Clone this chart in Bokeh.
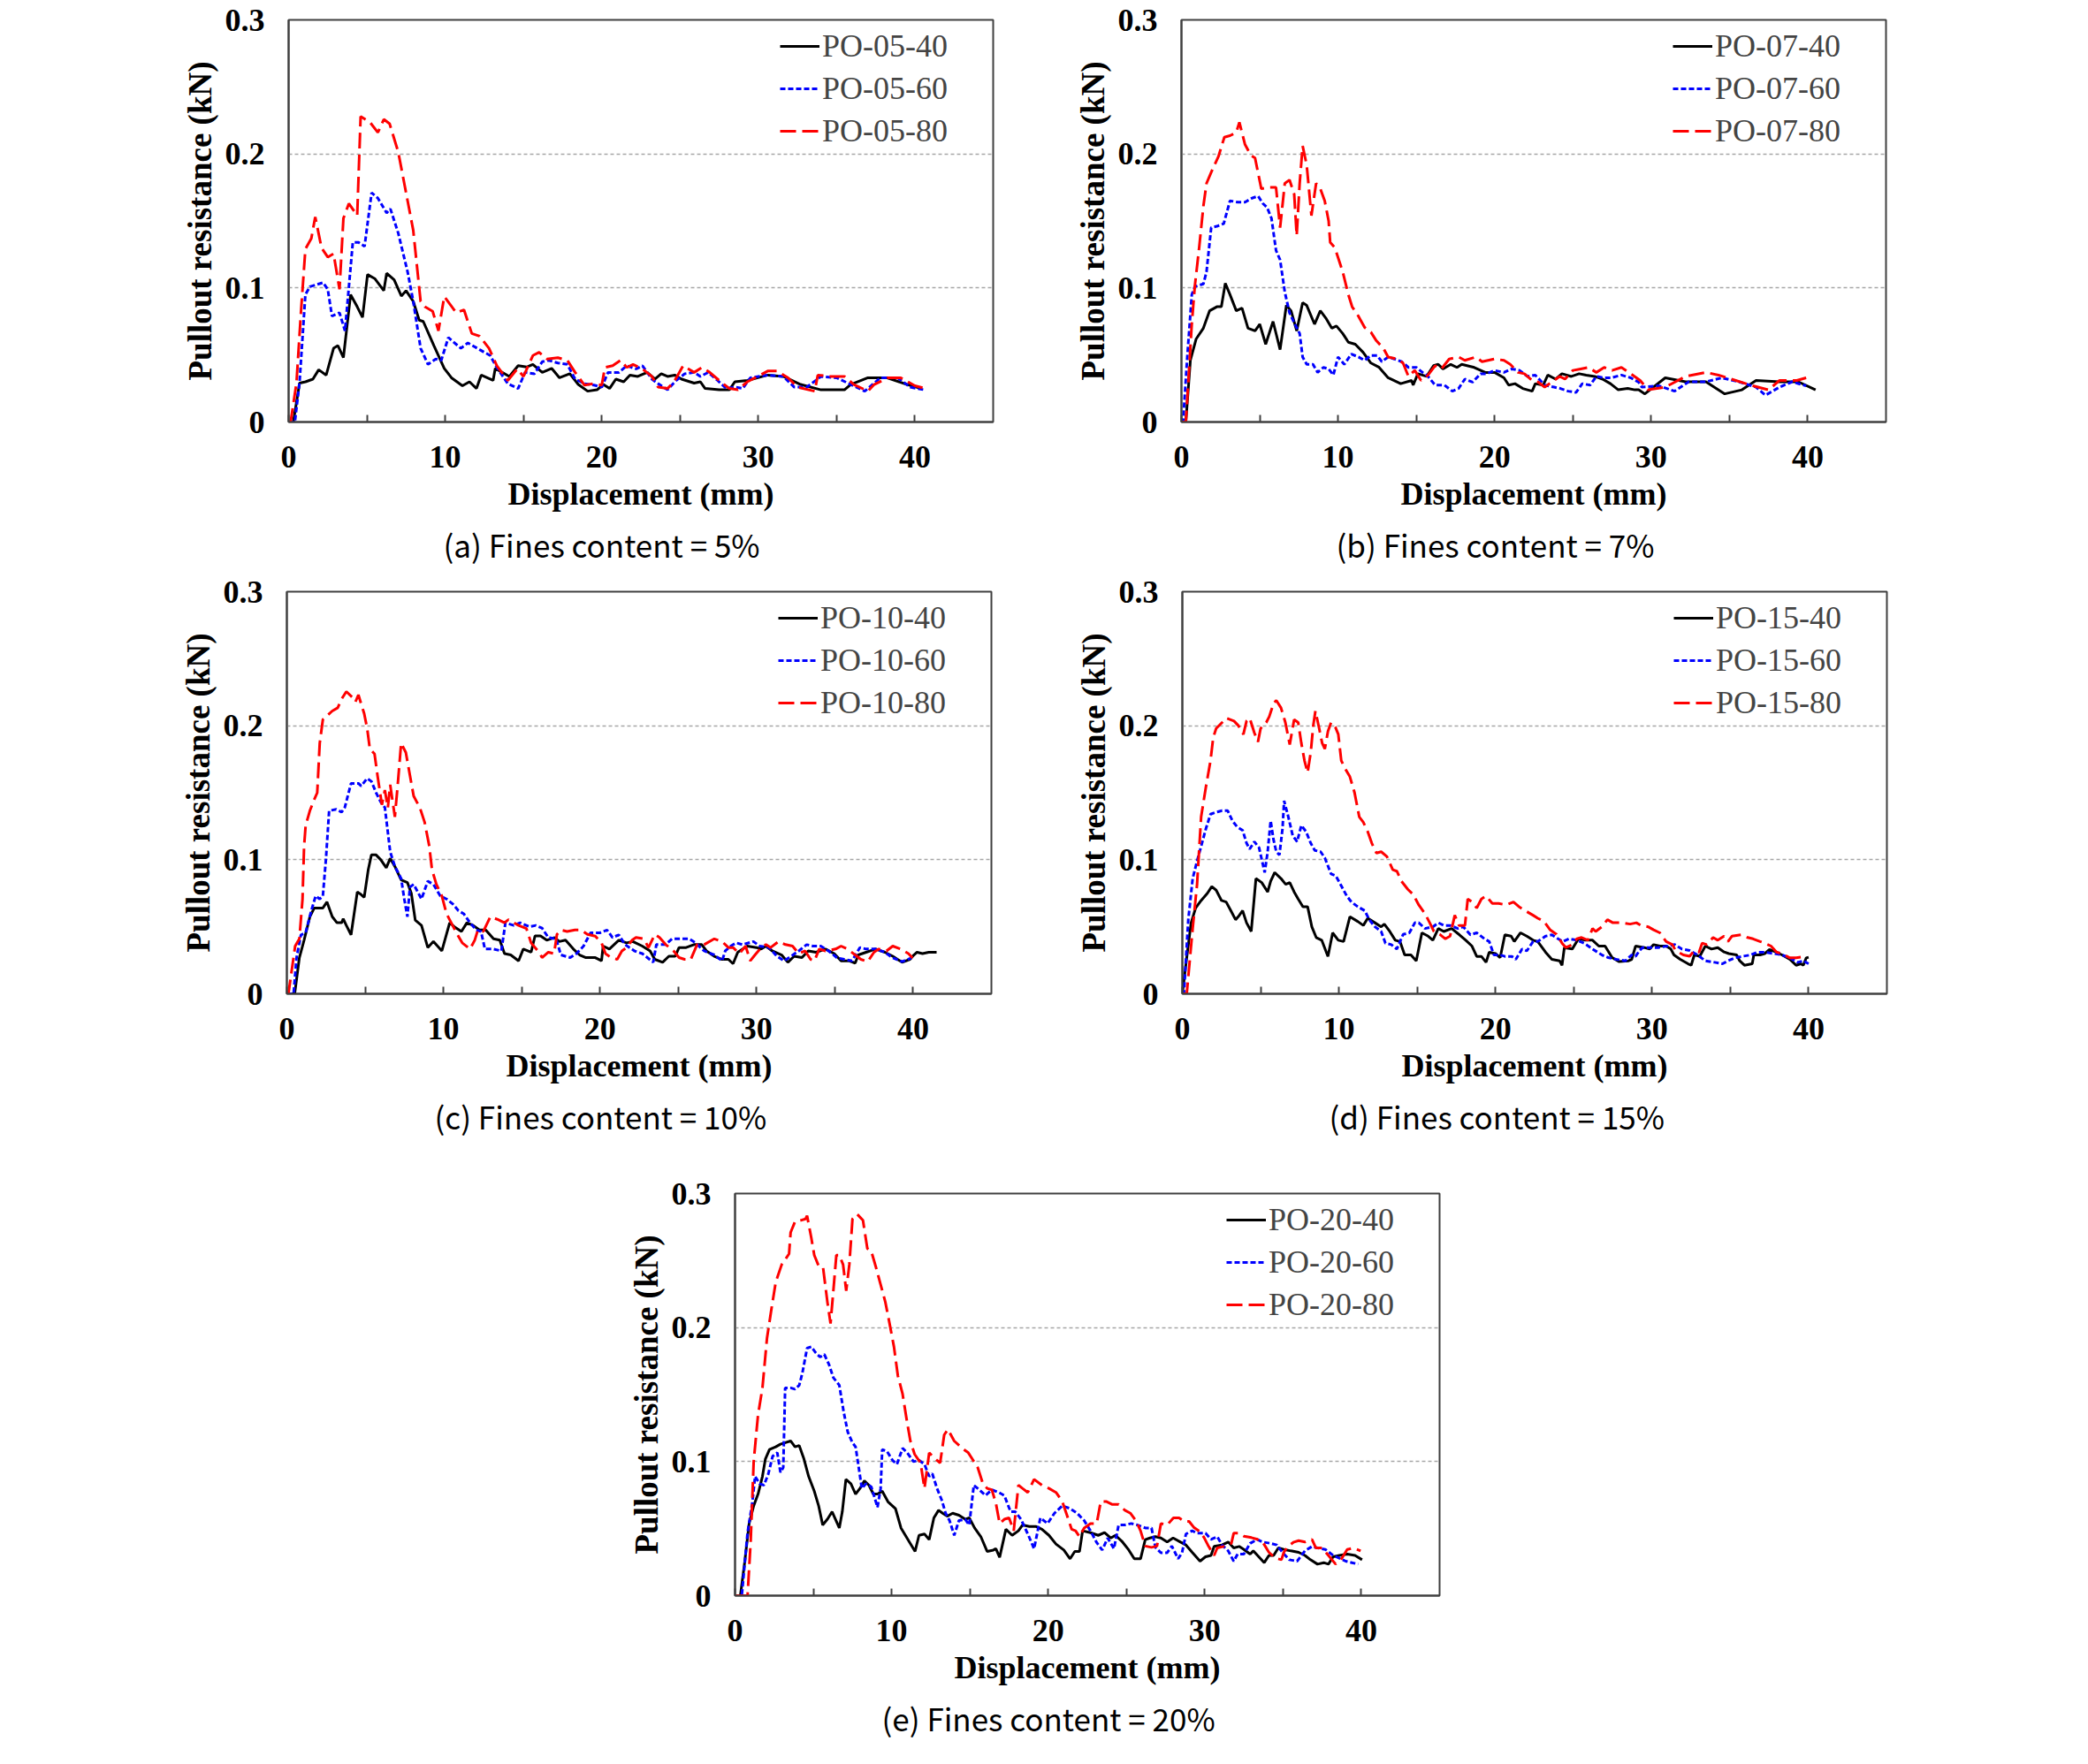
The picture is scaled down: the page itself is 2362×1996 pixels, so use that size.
from bokeh.plotting import figure
from bokeh.models import (Range1d, FixedTicker, Legend, LegendItem, Title,
                          ColumnDataSource)
from bokeh.layouts import column, row, Spacer
from bokeh.embed import file_html
from bokeh.resources import INLINE

# ---------------- data (displacement mm, pullout resistance kN) -------------
PO_05_40 = [(0,0),(0.3,0),(0.7,0.029),(1.08,0.030),(1.55,0.032),(1.92,0.039),(2.4,0.035),(2.87,0.055),(3.15,0.057),(3.5,0.048),(3.96,0.095),(4.38,0.086),(4.72,0.078),(5.04,0.110),(5.5,0.107),(6.08,0.098),(6.26,0.111),(6.74,0.106),(7.2,0.094),(7.5,0.098),(7.96,0.090),(8.34,0.076),(8.6,0.075),(9.28,0.057),(9.94,0.040),(10.4,0.033),(11.1,0.027),(11.55,0.030),(12.0,0.025),(12.3,0.035),(13.06,0.031),(13.2,0.040),(14.1,0.034),(14.66,0.042),(15.2,0.041),(15.6,0.043),(16.2,0.037),(16.8,0.040),(17.3,0.033),(17.96,0.036),(18.5,0.028),(19.1,0.023),(19.7,0.024),(20.1,0.028),(20.5,0.025),(20.9,0.032),(21.4,0.030),(21.8,0.035),(22.3,0.034),(22.9,0.037),(23.4,0.032),(23.8,0.036),(24.2,0.034),(24.66,0.035),(25.1,0.032),(25.9,0.029),(26.3,0.030),(26.6,0.025),(27.5,0.024),(28.15,0.024),(28.5,0.030),(29.3,0.031),(30.6,0.035),(31.6,0.034),(32.7,0.028),(34.0,0.024),(35.5,0.024),(35.9,0.028),(37.0,0.033),(38.2,0.033),(39.5,0.028),(40.4,0.025)]
PO_05_60 = [(0,0),(0.4,0),(0.7,0.03),(1.07,0.095),(1.36,0.101),(2.2,0.104),(2.5,0.099),(2.77,0.079),(3.25,0.0815),(3.6,0.068),(4.1,0.134),(4.47,0.134),(4.85,0.131),(5.3,0.171),(5.7,0.167),(6.26,0.156),(6.5,0.159),(7.0,0.141),(7.6,0.112),(7.96,0.090),(8.43,0.055),(8.9,0.043),(9.4,0.047),(9.75,0.046),(10.2,0.063),(11.0,0.055),(11.45,0.059),(12.2,0.054),(12.87,0.0496),(13.3,0.0407),(14.0,0.0286),(14.66,0.025),(15.1,0.037),(15.7,0.036),(16.2,0.045),(16.6,0.046),(17.2,0.044),(17.8,0.043),(18.3,0.032),(18.9,0.0286),(19.5,0.0275),(20.0,0.026),(20.4,0.037),(21.1,0.037),(21.6,0.042),(22.2,0.0396),(22.6,0.042),(23.2,0.032),(23.6,0.0286),(24.2,0.024),(24.75,0.031),(25.3,0.036),(25.9,0.037),(26.3,0.034),(26.8,0.037),(27.4,0.031),(27.96,0.025),(28.5,0.026),(29.0,0.025),(29.5,0.033),(30.6,0.035),(31.6,0.034),(32.3,0.026),(33.1,0.026),(34.0,0.034),(35.0,0.033),(35.9,0.028),(36.8,0.023),(37.8,0.033),(38.9,0.033),(39.7,0.026),(40.6,0.024)]
PO_05_80 = [(0,0),(0.13,0),(0.5,0.029),(0.8,0.084),(1.07,0.129),(1.45,0.137),(1.7,0.153),(2.1,0.130),(2.5,0.123),(2.87,0.1256),(3.25,0.099),(3.5,0.152),(3.85,0.163),(4.38,0.154),(4.6,0.228),(5.2,0.2236),(5.7,0.216),(6.08,0.2258),(6.45,0.2225),(7.0,0.2015),(7.6,0.165),(7.96,0.143),(8.43,0.090),(8.7,0.086),(9.2,0.0826),(9.57,0.068),(9.94,0.0936),(10.3,0.088),(10.7,0.0815),(11.2,0.0837),(11.7,0.066),(12.2,0.064),(12.8,0.055),(13.3,0.042),(14.0,0.031),(14.6,0.0396),(15.0,0.034),(15.6,0.0496),(16.0,0.052),(16.5,0.047),(17.2,0.048),(17.8,0.046),(18.3,0.037),(18.9,0.0275),(19.5,0.0286),(20.0,0.0275),(20.2,0.0407),(20.7,0.042),(21.2,0.046),(21.6,0.0407),(22.0,0.043),(22.6,0.0396),(23.2,0.034),(23.6,0.026),(24.2,0.025),(24.6,0.0297),(25.2,0.042),(25.9,0.037),(26.4,0.0407),(26.9,0.037),(27.5,0.031),(28.15,0.025),(28.7,0.024),(29.3,0.03),(30.6,0.038),(31.2,0.038),(31.9,0.033),(32.5,0.026),(33.6,0.023),(33.8,0.035),(34.6,0.034),(35.5,0.034),(36.1,0.028),(37.0,0.023),(37.4,0.028),(38.3,0.033),(39.1,0.033),(40.0,0.027),(40.7,0.025)]

PO_07_40 = [(0,0),(0.28,0),(0.57,0.046),(0.94,0.062),(1.4,0.070),(1.8,0.083),(2.26,0.086),(2.55,0.086),(2.8,0.1035),(3.1,0.095),(3.5,0.083),(3.87,0.085),(4.25,0.070),(4.7,0.068),(5.0,0.073),(5.38,0.058),(5.85,0.075),(6.3,0.054),(6.7,0.087),(7.0,0.083),(7.36,0.068),(7.74,0.089),(8.0,0.087),(8.5,0.073),(8.87,0.083),(9.25,0.077),(9.6,0.070),(9.9,0.0716),(10.3,0.066),(10.66,0.0595),(11.1,0.058),(11.6,0.052),(12.1,0.044),(12.6,0.041),(13.2,0.033),(14.0,0.0286),(14.7,0.031),(14.8,0.0275),(15.1,0.036),(15.66,0.034),(16.1,0.042),(16.4,0.043),(16.7,0.0396),(17.2,0.043),(17.6,0.0407),(17.9,0.043),(18.7,0.0407),(19.4,0.037),(20.0,0.037),(20.6,0.033),(20.9,0.0275),(21.3,0.0286),(21.8,0.025),(22.4,0.023),(22.6,0.0286),(23.1,0.0275),(23.4,0.035),(23.9,0.032),(24.3,0.036),(24.9,0.034),(25.4,0.036),(25.85,0.035),(26.4,0.034),(26.9,0.032),(27.4,0.0286),(27.9,0.024),(28.5,0.025),(28.96,0.024),(29.2,0.024),(29.6,0.021),(30.9,0.033),(32.2,0.030),(33.5,0.030),(34.7,0.021),(35.8,0.024),(36.7,0.031),(38.2,0.030),(39.4,0.030),(40.5,0.024)]
PO_07_60 = [(0,0),(0.1,0),(0.38,0.05),(0.66,0.095),(0.85,0.101),(1.4,0.103),(1.6,0.112),(1.9,0.145),(2.26,0.146),(2.7,0.148),(3.1,0.165),(3.6,0.164),(4.06,0.164),(4.5,0.167),(4.9,0.1685),(5.2,0.163),(5.47,0.160),(5.75,0.152),(6.04,0.128),(6.3,0.121),(6.6,0.097),(6.9,0.0815),(7.2,0.074),(7.55,0.066),(7.74,0.0485),(8.0,0.043),(8.4,0.043),(8.7,0.037),(9.06,0.0407),(9.4,0.0396),(9.7,0.035),(10.0,0.0485),(10.4,0.043),(10.85,0.0507),(11.3,0.0485),(11.7,0.046),(12.1,0.0496),(12.5,0.0496),(12.8,0.045),(13.2,0.0485),(13.6,0.047),(14.06,0.045),(14.5,0.0407),(15.0,0.0407),(15.4,0.037),(15.75,0.034),(16.2,0.0275),(16.8,0.0275),(17.3,0.023),(17.7,0.025),(18.1,0.032),(18.6,0.0297),(19.1,0.036),(19.5,0.036),(20.0,0.0385),(20.6,0.037),(21.1,0.0396),(21.6,0.0385),(22.1,0.034),(22.6,0.035),(23.2,0.0275),(23.8,0.026),(24.2,0.025),(24.7,0.023),(25.2,0.022),(25.6,0.0286),(26.1,0.0275),(26.5,0.034),(27.0,0.033),(27.45,0.033),(28.1,0.035),(28.7,0.033),(29.2,0.0297),(29.4,0.026),(30.5,0.027),(31.5,0.023),(32.4,0.030),(33.5,0.030),(34.5,0.033),(35.6,0.030),(36.7,0.026),(37.3,0.020),(38.2,0.026),(39.0,0.030),(39.9,0.027)]
PO_07_80 = [(0,0),(0.28,0),(0.66,0.073),(0.85,0.101),(1.13,0.13),(1.4,0.161),(1.6,0.178),(2.0,0.189),(2.36,0.198),(2.74,0.2125),(3.1,0.2136),(3.5,0.216),(3.7,0.2236),(4.06,0.207),(4.43,0.199),(4.7,0.197),(5.1,0.174),(5.57,0.175),(6.04,0.175),(6.3,0.145),(6.6,0.178),(6.9,0.1806),(7.2,0.170),(7.36,0.139),(7.55,0.178),(7.74,0.206),(8.0,0.1916),(8.3,0.154),(8.6,0.178),(8.87,0.174),(9.15,0.165),(9.4,0.150),(9.5,0.134),(9.8,0.130),(10.3,0.112),(10.66,0.095),(10.9,0.086),(11.3,0.079),(11.7,0.0705),(12.1,0.067),(12.45,0.0606),(12.9,0.055),(13.2,0.0485),(13.8,0.047),(14.15,0.044),(14.5,0.034),(14.9,0.0385),(15.3,0.031),(15.75,0.035),(16.2,0.042),(16.6,0.0396),(17.1,0.047),(17.7,0.0485),(18.1,0.046),(18.8,0.0485),(19.2,0.045),(20.0,0.047),(20.6,0.046),(21.0,0.043),(21.5,0.037),(21.9,0.036),(22.4,0.031),(22.8,0.0297),(23.2,0.026),(23.8,0.031),(24.15,0.034),(24.5,0.032),(25.0,0.0385),(25.5,0.0396),(26.0,0.0407),(26.5,0.037),(27.0,0.0407),(27.5,0.0385),(28.1,0.0407),(28.7,0.036),(29.3,0.031),(29.8,0.024),(30.9,0.026),(32.2,0.034),(33.5,0.037),(34.3,0.035),(35.4,0.031),(36.5,0.027),(37.5,0.024),(38.2,0.031),(39.3,0.031),(39.9,0.033)]

PO_10_40 = [(0,0),(0.5,0),(0.8,0.027),(1.1,0.040),(1.47,0.0575),(1.75,0.064),(2.3,0.064),(2.56,0.0685),(2.9,0.0575),(3.2,0.053),(3.5,0.053),(3.6,0.056),(3.8,0.051),(4.1,0.044),(4.5,0.076),(4.75,0.074),(4.94,0.072),(5.2,0.0926),(5.4,0.1036),(5.7,0.1036),(6.0,0.100),(6.35,0.094),(6.6,0.101),(6.9,0.095),(7.3,0.085),(7.7,0.083),(7.95,0.075),(8.2,0.055),(8.6,0.051),(9.0,0.0345),(9.36,0.039),(9.9,0.032),(10.4,0.053),(10.7,0.050),(11.15,0.0465),(11.5,0.053),(11.9,0.051),(12.3,0.0476),(12.7,0.0476),(13.2,0.041),(13.6,0.040),(13.9,0.030),(14.3,0.029),(14.8,0.0246),(15.1,0.0334),(15.6,0.031),(15.85,0.0432),(16.2,0.0432),(16.6,0.040),(17.1,0.042),(17.4,0.039),(17.8,0.040),(18.3,0.0334),(18.7,0.029),(19.1,0.027),(19.7,0.027),(20.1,0.0246),(20.2,0.0356),(20.6,0.0334),(21.2,0.040),(21.7,0.038),(22.1,0.039),(22.7,0.0356),(23.2,0.032),(23.5,0.0257),(24.0,0.0235),(24.4,0.028),(24.8,0.028),(25.05,0.0345),(25.5,0.0345),(26.0,0.0367),(26.5,0.0367),(26.8,0.032),(27.3,0.028),(27.8,0.0257),(28.2,0.0257),(28.5,0.0224),(28.8,0.031),(29.4,0.0356),(30.0,0.0345),(30.3,0.0334),(30.6,0.0356),(31.0,0.032),(31.6,0.029),(32.0,0.0235),(32.4,0.028),(32.9,0.027),(33.3,0.032),(33.8,0.031),(34.4,0.0334),(34.96,0.030),(35.4,0.0246),(35.9,0.0246),(36.3,0.0229),(36.5,0.029),(37.0,0.031),(37.6,0.0334),(38.2,0.031),(38.7,0.028),(39.3,0.0235),(39.8,0.0257),(40.05,0.029),(40.25,0.031),(40.6,0.030),(41.0,0.031),(41.5,0.031)]
PO_10_60 = [(0,0),(0.43,0),(0.62,0.027),(0.9,0.044),(1.2,0.0455),(1.56,0.062),(1.84,0.073),(2.1,0.0707),(2.3,0.073),(2.5,0.101),(2.7,0.1366),(3.16,0.1376),(3.5,0.1355),(3.7,0.139),(4.1,0.157),(4.57,0.157),(4.75,0.155),(5.13,0.1607),(5.4,0.1585),(5.7,0.150),(6.0,0.143),(6.26,0.139),(6.6,0.106),(6.9,0.095),(7.3,0.086),(7.5,0.0707),(7.7,0.0575),(7.86,0.0795),(8.1,0.0817),(8.6,0.0707),(9.0,0.084),(9.36,0.0817),(9.8,0.073),(10.2,0.0707),(10.6,0.067),(10.96,0.062),(11.3,0.0597),(11.7,0.053),(12.1,0.0476),(12.4,0.0465),(12.65,0.0334),(13.2,0.0334),(13.7,0.032),(13.96,0.053),(14.5,0.051),(14.9,0.053),(15.5,0.050),(15.9,0.051),(16.3,0.049),(16.7,0.042),(17.2,0.041),(17.5,0.029),(18.1,0.027),(18.5,0.030),(18.95,0.0356),(19.4,0.0455),(20.0,0.0455),(20.45,0.0476),(20.8,0.042),(21.2,0.044),(21.6,0.0367),(22.2,0.032),(22.7,0.030),(23.4,0.0235),(23.6,0.0367),(24.2,0.0367),(24.6,0.041),(25.15,0.041),(25.7,0.041),(26.1,0.038),(26.65,0.032),(27.3,0.029),(27.8,0.0246),(28.0,0.032),(28.35,0.0356),(28.7,0.038),(29.1,0.0367),(29.8,0.039),(30.2,0.0356),(30.8,0.0345),(31.3,0.028),(31.75,0.0246),(32.2,0.028),(32.7,0.032),(33.2,0.0367),(33.6,0.0356),(34.1,0.0356),(34.6,0.032),(35.15,0.0268),(35.6,0.0257),(36.1,0.0246),(36.6,0.0345),(37.0,0.0334),(37.6,0.0334),(38.2,0.031),(38.7,0.0268),(39.3,0.024),(39.9,0.0268)]
PO_10_80 = [(0,0),(0.1,0),(0.53,0.0356),(0.8,0.041),(1.0,0.0707),(1.1,0.110),(1.2,0.1256),(1.47,0.1366),(1.75,0.145),(1.94,0.15),(2.1,0.187),(2.3,0.2046),(2.9,0.211),(3.25,0.2134),(3.5,0.22),(3.8,0.2255),(4.2,0.221),(4.38,0.2178),(4.57,0.223),(4.94,0.209),(5.13,0.198),(5.3,0.1827),(5.6,0.179),(5.8,0.162),(6.07,0.141),(6.26,0.152),(6.45,0.1387),(6.6,0.156),(6.9,0.132),(7.1,0.1585),(7.3,0.187),(7.6,0.180),(7.86,0.163),(8.1,0.1475),(8.5,0.1387),(8.8,0.128),(9.1,0.110),(9.27,0.0926),(9.55,0.0817),(9.9,0.073),(10.2,0.0597),(10.5,0.053),(10.9,0.044),(11.2,0.038),(11.7,0.0334),(12.0,0.040),(12.2,0.0476),(12.55,0.0465),(13.0,0.0575),(13.5,0.0553),(13.9,0.053),(14.15,0.0553),(14.5,0.053),(14.8,0.051),(15.3,0.0487),(15.6,0.038),(16.1,0.031),(16.3,0.027),(16.7,0.031),(17.07,0.030),(17.25,0.0443),(17.5,0.0476),(17.9,0.0465),(18.4,0.0476),(18.8,0.0476),(19.2,0.0443),(19.7,0.043),(20.1,0.038),(20.35,0.030),(20.7,0.027),(21.1,0.0257),(21.4,0.032),(21.7,0.0345),(22.05,0.040),(22.3,0.042),(22.8,0.041),(23.1,0.0345),(23.5,0.0443),(23.8,0.042),(24.2,0.0367),(24.7,0.032),(25.05,0.027),(25.4,0.0257),(25.8,0.0257),(26.2,0.0367),(26.65,0.0367),(27.3,0.041),(27.8,0.039),(28.2,0.0345),(28.5,0.0345),(28.9,0.030),(29.3,0.0356),(29.6,0.0246),(29.9,0.029),(30.3,0.0345),(30.6,0.0367),(30.9,0.0345),(31.4,0.039),(31.85,0.0367),(32.3,0.0356),(32.7,0.030),(33.1,0.032),(33.45,0.0257),(33.7,0.0246),(34.0,0.0334),(34.4,0.032),(35.05,0.0334),(35.4,0.0356),(35.8,0.0334),(36.3,0.029),(36.66,0.0257),(37.1,0.024),(37.5,0.031),(37.8,0.0334),(38.3,0.032),(38.7,0.0356),(39.2,0.0334),(39.7,0.030),(39.96,0.0268)]

PO_15_40 = [(0,0),(0.28,0.027),(0.56,0.053),(0.85,0.064),(1.2,0.0696),(1.6,0.075),(1.88,0.080),(2.16,0.0773),(2.5,0.0696),(2.8,0.0685),(3.1,0.062),(3.4,0.0553),(3.57,0.0575),(3.85,0.062),(4.1,0.053),(4.4,0.0465),(4.7,0.086),(5.07,0.083),(5.45,0.076),(5.64,0.084),(5.9,0.0905),(6.3,0.086),(6.6,0.0817),(6.86,0.083),(7.14,0.076),(7.4,0.0707),(7.7,0.065),(8.0,0.065),(8.27,0.050),(8.55,0.042),(8.9,0.040),(9.3,0.0279),(9.6,0.0455),(9.96,0.040),(10.3,0.039),(10.7,0.0575),(11.2,0.054),(11.56,0.051),(11.84,0.0564),(12.3,0.053),(12.7,0.050),(12.9,0.052),(13.25,0.0465),(13.6,0.040),(13.9,0.039),(14.2,0.029),(14.6,0.029),(14.94,0.0246),(15.3,0.0455),(15.7,0.043),(16.0,0.040),(16.35,0.0487),(16.7,0.0465),(17.2,0.0487),(17.7,0.044),(18.1,0.040),(18.5,0.0356),(18.8,0.0279),(19.1,0.0279),(19.4,0.0235),(19.6,0.031),(20.0,0.030),(20.3,0.027),(20.6,0.044),(21.0,0.043),(21.2,0.039),(21.6,0.0455),(22.0,0.043),(22.4,0.040),(22.7,0.039),(23.2,0.031),(23.6,0.0257),(24.1,0.0246),(24.25,0.0213),(24.4,0.0345),(24.9,0.0334),(25.3,0.041),(25.75,0.040),(26.2,0.040),(26.6,0.0356),(27.0,0.0356),(27.45,0.027),(27.9,0.024),(28.5,0.0246),(28.7,0.0257),(28.95,0.0356),(29.5,0.0345),(29.85,0.0334),(30.1,0.0367),(30.5,0.0356),(30.9,0.0356),(31.2,0.0334),(31.4,0.029),(31.8,0.0257),(32.3,0.0224),(32.5,0.0213),(32.7,0.029),(33.05,0.028),(33.4,0.0356),(33.8,0.0334),(34.2,0.0345),(34.6,0.0312),(34.9,0.030),(35.4,0.029),(35.6,0.0246),(35.9,0.0213),(36.4,0.0224),(36.5,0.029),(36.9,0.029),(37.2,0.030),(37.5,0.033),(37.9,0.0312),(38.3,0.029),(38.8,0.0257),(39.2,0.0213),(39.5,0.0224),(39.66,0.0213),(39.85,0.0268),(40.0,0.0273)]
PO_15_60 = [(0,0),(0.1,0),(0.38,0.0553),(0.66,0.086),(0.94,0.099),(1.2,0.110),(1.5,0.123),(1.8,0.134),(2.16,0.1355),(2.54,0.1366),(2.9,0.1366),(3.2,0.129),(3.5,0.1245),(3.85,0.122),(4.1,0.1124),(4.3,0.108),(4.6,0.1135),(4.9,0.109),(5.26,0.0905),(5.45,0.106),(5.64,0.129),(5.83,0.1146),(6.0,0.106),(6.2,0.1036),(6.4,0.1234),(6.5,0.144),(6.77,0.132),(7.05,0.118),(7.33,0.1135),(7.6,0.1256),(7.9,0.121),(8.2,0.1124),(8.46,0.107),(8.83,0.106),(9.1,0.1014),(9.5,0.0894),(9.8,0.088),(10.15,0.0806),(10.5,0.073),(10.8,0.0685),(11.2,0.065),(11.65,0.062),(11.94,0.0553),(12.3,0.050),(12.7,0.0465),(12.97,0.0378),(13.35,0.0367),(13.7,0.0334),(14.1,0.0443),(14.5,0.0455),(14.85,0.053),(15.1,0.053),(15.5,0.0487),(16.0,0.050),(16.35,0.053),(16.7,0.051),(17.1,0.051),(17.6,0.0487),(17.95,0.050),(18.4,0.044),(18.8,0.0455),(19.3,0.041),(19.6,0.039),(19.9,0.029),(20.3,0.029),(20.6,0.0279),(21.05,0.0279),(21.3,0.0257),(21.7,0.0334),(22.0,0.032),(22.4,0.039),(22.7,0.039),(23.2,0.043),(23.6,0.044),(24.0,0.041),(24.3,0.039),(24.7,0.041),(25.2,0.040),(25.65,0.0378),(26.2,0.0334),(26.8,0.029),(27.2,0.027),(27.7,0.0257),(28.3,0.0246),(28.7,0.029),(28.95,0.0279),(29.2,0.0323),(29.4,0.0345),(29.85,0.0345),(30.4,0.0345),(30.98,0.0356),(31.45,0.0367),(31.9,0.0334),(32.4,0.0323),(32.9,0.029),(33.4,0.0246),(34.0,0.0235),(34.5,0.0224),(34.85,0.0246),(35.3,0.0268),(35.8,0.028),(36.3,0.029),(36.7,0.031),(37.2,0.031),(37.8,0.030),(38.3,0.029),(38.8,0.0268),(39.3,0.0235),(39.66,0.0246),(40.0,0.0224)]
PO_15_80 = [(0,0),(0.28,0),(0.66,0.0487),(0.94,0.0817),(1.2,0.132),(1.5,0.154),(1.8,0.174),(1.97,0.191),(2.16,0.198),(2.54,0.2024),(2.8,0.2057),(3.3,0.2035),(3.57,0.2002),(3.9,0.1936),(4.1,0.2035),(4.3,0.2057),(4.6,0.1947),(4.83,0.188),(5.0,0.198),(5.36,0.2024),(5.55,0.2068),(5.83,0.2167),(6.0,0.2189),(6.3,0.2134),(6.58,0.2024),(6.86,0.186),(7.14,0.2046),(7.4,0.2024),(7.6,0.187),(7.8,0.174),(8.0,0.165),(8.2,0.180),(8.36,0.200),(8.5,0.211),(8.74,0.198),(8.93,0.187),(9.1,0.1827),(9.3,0.1958),(9.5,0.2024),(9.77,0.199),(9.96,0.1936),(10.15,0.174),(10.4,0.168),(10.7,0.162),(11.0,0.150),(11.3,0.132),(11.56,0.128),(11.84,0.121),(12.1,0.1124),(12.4,0.105),(12.7,0.106),(13.06,0.1025),(13.44,0.0926),(13.7,0.0915),(14.0,0.0839),(14.4,0.078),(14.75,0.074),(15.1,0.0663),(15.5,0.0597),(15.8,0.053),(16.07,0.0465),(16.45,0.0443),(16.8,0.041),(17.1,0.043),(17.4,0.0586),(17.67,0.051),(18.05,0.051),(18.23,0.0707),(18.5,0.0685),(18.8,0.064),(19.1,0.0707),(19.4,0.073),(19.8,0.0674),(20.2,0.0674),(20.7,0.0663),(21.15,0.0685),(21.5,0.065),(21.9,0.062),(22.4,0.0586),(22.7,0.0564),(23.1,0.054),(23.5,0.0476),(23.9,0.0443),(24.25,0.0378),(24.5,0.0345),(24.9,0.0367),(25.2,0.041),(25.5,0.042),(25.9,0.040),(26.2,0.0487),(26.4,0.0465),(26.8,0.050),(27.15,0.0553),(27.5,0.053),(28.1,0.053),(28.6,0.052),(29.0,0.053),(29.3,0.051),(29.75,0.050),(30.1,0.0477),(30.5,0.0455),(30.9,0.039),(31.3,0.0367),(31.5,0.0323),(32.0,0.029),(32.4,0.028),(32.7,0.0323),(33.0,0.031),(33.2,0.0378),(33.5,0.0367),(33.9,0.042),(34.2,0.040),(34.6,0.043),(34.85,0.039),(35.1,0.043),(35.7,0.044),(36.1,0.042),(36.45,0.041),(36.9,0.039),(37.2,0.0378),(37.6,0.0356),(37.96,0.031),(38.3,0.030),(38.8,0.0268),(39.2,0.0268),(39.5,0.0273)]

PO_20_40 = [(0,0),(0.34,0),(0.62,0.0253),(0.9,0.0538),(1.19,0.067),(1.47,0.0758),(1.75,0.089),(1.94,0.102),(2.2,0.109),(2.6,0.111),(2.9,0.113),(3.17,0.114),(3.55,0.1154),(3.83,0.111),(4.1,0.112),(4.4,0.102),(4.7,0.089),(5.06,0.078),(5.34,0.067),(5.6,0.0527),(5.9,0.057),(6.2,0.0626),(6.66,0.0505),(6.85,0.0626),(7.08,0.0868),(7.4,0.0835),(7.7,0.0758),(7.98,0.080),(8.26,0.0857),(8.55,0.0824),(8.83,0.0758),(9.1,0.0758),(9.4,0.078),(9.77,0.070),(10.25,0.0648),(10.6,0.0505),(11.1,0.0407),(11.5,0.033),(11.75,0.045),(12.1,0.046),(12.4,0.0418),(12.7,0.058),(13.0,0.0637),(13.26,0.0615),(13.55,0.0593),(13.9,0.0615),(14.3,0.060),(14.7,0.057),(14.96,0.058),(15.3,0.0505),(15.7,0.044),(16.1,0.033),(16.5,0.034),(16.66,0.035),(16.9,0.0286),(17.3,0.0495),(17.7,0.045),(18.1,0.0484),(18.36,0.0527),(18.8,0.0516),(19.2,0.0516),(19.6,0.0495),(20.05,0.045),(20.5,0.0385),(21.0,0.034),(21.4,0.0275),(21.7,0.033),(22.0,0.033),(22.2,0.0484),(22.7,0.047),(23.2,0.045),(23.6,0.047),(24.0,0.043),(24.3,0.045),(24.7,0.0407),(25.15,0.034),(25.5,0.0275),(25.9,0.0275),(26.2,0.0418),(26.5,0.043),(26.85,0.044),(27.2,0.043),(27.6,0.040),(27.98,0.043),(28.45,0.040),(28.8,0.0378),(29.2,0.0323),(29.7,0.0257),(30.05,0.029),(30.4,0.030),(30.6,0.0367),(31.1,0.0378),(31.5,0.040),(31.85,0.0356),(32.2,0.0367),(32.5,0.0345),(32.9,0.031),(33.1,0.0334),(33.45,0.029),(33.8,0.0246),(34.1,0.030),(34.4,0.030),(34.7,0.0356),(35.05,0.0345),(35.5,0.0334),(36.0,0.0323),(36.4,0.030),(36.75,0.0268),(37.2,0.0235),(37.6,0.0246),(37.9,0.0235),(38.2,0.029),(38.6,0.030),(39.1,0.031),(39.6,0.030),(40.05,0.0268)]
PO_20_60 = [(0,0),(0.43,0),(0.8,0.047),(1.1,0.069),(1.28,0.089),(1.57,0.0835),(1.85,0.0824),(2.13,0.091),(2.4,0.104),(2.7,0.1066),(2.9,0.092),(3.08,0.0956),(3.2,0.155),(3.55,0.155),(3.83,0.154),(4.1,0.157),(4.3,0.166),(4.6,0.1846),(4.87,0.1857),(5.15,0.1813),(5.43,0.178),(5.7,0.180),(6.0,0.1725),(6.28,0.1626),(6.66,0.157),(6.94,0.137),(7.2,0.122),(7.5,0.114),(7.7,0.111),(7.9,0.0956),(8.1,0.080),(8.36,0.0835),(8.7,0.0813),(8.9,0.0736),(9.1,0.066),(9.3,0.080),(9.4,0.109),(9.7,0.1077),(10.06,0.101),(10.34,0.098),(10.7,0.110),(11.0,0.1066),(11.4,0.100),(11.75,0.101),(12.1,0.098),(12.4,0.089),(12.6,0.091),(12.9,0.080),(13.2,0.0714),(13.45,0.0615),(13.7,0.056),(14.0,0.045),(14.3,0.056),(14.7,0.057),(14.96,0.0527),(15.25,0.0824),(15.6,0.079),(16.0,0.0747),(16.4,0.079),(16.85,0.077),(17.2,0.0747),(17.6,0.0626),(17.9,0.0626),(18.26,0.057),(18.7,0.046),(19.1,0.035),(19.5,0.058),(19.96,0.0538),(20.4,0.0615),(20.9,0.067),(21.4,0.065),(21.85,0.0615),(22.3,0.056),(22.7,0.0484),(23.1,0.0396),(23.45,0.034),(23.8,0.043),(24.2,0.035),(24.5,0.0527),(24.9,0.0527),(25.3,0.0538),(25.7,0.0527),(26.2,0.0505),(26.6,0.0505),(26.85,0.036),(27.2,0.032),(27.6,0.032),(27.9,0.037),(28.3,0.0275),(28.55,0.032),(28.8,0.046),(29.2,0.0484),(29.5,0.0466),(30.05,0.0466),(30.4,0.042),(30.8,0.044),(31.1,0.0378),(31.5,0.0334),(31.85,0.0257),(32.1,0.031),(32.5,0.031),(32.9,0.039),(33.35,0.042),(33.7,0.040),(34.2,0.039),(34.6,0.0378),(34.96,0.0323),(35.4,0.0268),(35.9,0.0257),(36.4,0.0334),(36.85,0.0367),(37.2,0.0356),(37.7,0.0345),(38.2,0.030),(38.6,0.028),(39.0,0.0257),(39.4,0.0246),(39.8,0.0235)]
PO_20_80 = [(0,0),(0.8,0),(1.0,0.0407),(1.19,0.100),(1.47,0.135),(1.75,0.155),(2.04,0.192),(2.3,0.212),(2.6,0.234),(2.98,0.247),(3.45,0.255),(3.55,0.271),(3.83,0.279),(4.2,0.280),(4.5,0.281),(4.6,0.2835),(4.87,0.267),(5.06,0.254),(5.34,0.246),(5.62,0.245),(5.9,0.219),(6.1,0.203),(6.28,0.2275),(6.47,0.254),(6.66,0.254),(6.9,0.247),(7.1,0.2275),(7.3,0.247),(7.5,0.281),(7.8,0.2846),(8.17,0.280),(8.45,0.259),(8.7,0.257),(9.0,0.245),(9.3,0.232),(9.6,0.219),(9.87,0.203),(10.15,0.1857),(10.4,0.164),(10.7,0.1505),(11.0,0.1286),(11.2,0.1154),(11.47,0.1055),(11.85,0.099),(12.1,0.080),(12.4,0.1066),(12.7,0.103),(13.1,0.099),(13.36,0.12),(13.6,0.124),(14.0,0.1154),(14.5,0.110),(14.9,0.1066),(15.15,0.102),(15.5,0.0956),(15.8,0.0846),(16.1,0.080),(16.4,0.079),(16.66,0.069),(16.9,0.0538),(17.2,0.057),(17.5,0.058),(17.8,0.0484),(18.1,0.0824),(18.36,0.080),(18.7,0.077),(19.1,0.0868),(19.6,0.0824),(20.05,0.080),(20.5,0.077),(20.9,0.0703),(21.2,0.060),(21.5,0.0495),(21.75,0.0484),(22.0,0.044),(22.3,0.0505),(22.7,0.0538),(23.1,0.0538),(23.36,0.0703),(23.7,0.0703),(24.1,0.068),(24.5,0.068),(24.9,0.0637),(25.25,0.0615),(25.6,0.056),(25.9,0.0484),(26.2,0.037),(26.6,0.036),(26.95,0.037),(27.2,0.0538),(27.6,0.0527),(28.0,0.058),(28.36,0.058),(28.7,0.0554),(29.0,0.0554),(29.3,0.051),(29.7,0.0477),(29.96,0.0433),(30.25,0.0367),(30.6,0.030),(30.8,0.0356),(31.2,0.0367),(31.7,0.039),(31.85,0.0466),(32.2,0.0466),(32.5,0.0444),(32.98,0.0433),(33.36,0.042),(33.7,0.040),(34.1,0.0323),(34.5,0.028),(34.9,0.0268),(35.05,0.0323),(35.3,0.0367),(35.7,0.040),(36.0,0.041),(36.4,0.040),(36.85,0.042),(37.1,0.0356),(37.5,0.0356),(37.9,0.030),(38.36,0.0235),(38.7,0.0268),(39.1,0.0345),(39.5,0.0356),(39.96,0.0334)]

PANELS = [
    ("(a) Fines content = 5%",  ["PO-05-40", "PO-05-60", "PO-05-80"], [PO_05_40, PO_05_60, PO_05_80]),
    ("(b) Fines content = 7%",  ["PO-07-40", "PO-07-60", "PO-07-80"], [PO_07_40, PO_07_60, PO_07_80]),
    ("(c) Fines content = 10%", ["PO-10-40", "PO-10-60", "PO-10-80"], [PO_10_40, PO_10_60, PO_10_80]),
    ("(d) Fines content = 15%", ["PO-15-40", "PO-15-60", "PO-15-80"], [PO_15_40, PO_15_60, PO_15_80]),
    ("(e) Fines content = 20%", ["PO-20-40", "PO-20-60", "PO-20-80"], [PO_20_40, PO_20_60, PO_20_80]),
]
X_TICKS = [0, 5, 10, 15, 20, 25, 30, 35, 40]
Y_TICKS = [0, 0.1, 0.2, 0.3]

# ---------------- styling ---------------------------------------------------
SERIF = "Liberation Serif"
STYLES = [dict(color="#000000", dash="solid", width=3),
          dict(color="#0000ff", dash="6 3", width=3),
          dict(color="#ff0000", dash="18 7", width=3)]
FRAME_W, FRAME_H = 797, 455
BORDER_L = 135
TOP = 22          # room above each frame for the "0.3" label
BOTTOM = 170      # room below each frame for ticks, axis title, caption


def make_panel(caption, names, series, border_right, cap_offset):
    p = figure(frame_width=FRAME_W, frame_height=FRAME_H,
               x_range=Range1d(0, 45), y_range=Range1d(0, 0.3),
               output_backend="svg", toolbar_location=None, title=None,
               min_border_left=BORDER_L, min_border_right=border_right,
               min_border_top=TOP, min_border_bottom=BOTTOM)
    p.background_fill_color = "white"
    p.border_fill_color = "white"
    p.outline_line_color = "#404040"
    p.outline_line_width = 2

    items = []
    for name, pts, st in zip(names, series, STYLES):
        src = ColumnDataSource(dict(x=[q[0] for q in pts], y=[q[1] for q in pts]))
        r = p.line("x", "y", source=src, line_color=st["color"],
                   line_width=st["width"], line_dash=st["dash"])
        items.append(LegendItem(label=name, renderers=[r]))

    leg = Legend(items=items, location=(556, 308))
    leg.label_text_font = SERIF
    leg.label_text_font_size = "36px"
    leg.glyph_width = 45
    leg.glyph_height = 40
    leg.label_height = 40
    leg.label_standoff = 3
    leg.spacing = 6
    leg.padding = 0
    leg.margin = 0
    leg.border_line_color = None
    leg.background_fill_alpha = 0
    p.add_layout(leg)

    # x axis
    xa = p.xaxis[0]
    xa.ticker = FixedTicker(ticks=X_TICKS)
    xa.major_label_overrides = {t: ("" if t % 10 else str(t)) for t in X_TICKS}
    xa.major_tick_in = 8
    xa.major_tick_out = 0
    xa.minor_tick_in = 0
    xa.minor_tick_out = 0
    xa.axis_line_color = "#404040"
    xa.axis_line_width = 2
    xa.major_tick_line_color = "#404040"
    xa.major_tick_line_width = 2
    xa.major_label_text_font = SERIF
    xa.major_label_text_font_style = "bold"
    xa.major_label_text_font_size = "36px"
    xa.major_label_text_color = "black"
    xa.major_label_standoff = 27
    xa.axis_label = "Displacement (mm)"
    xa.axis_label_text_font = SERIF
    xa.axis_label_text_font_style = "bold"
    xa.axis_label_text_font_size = "36px"
    xa.axis_label_text_color = "black"
    xa.axis_label_standoff = 7

    # y axis
    ya = p.yaxis[0]
    ya.ticker = FixedTicker(ticks=Y_TICKS)
    ya.major_label_overrides = {0: "0", 0.1: "0.1", 0.2: "0.2", 0.3: "0.3"}
    ya.major_tick_in = 0
    ya.major_tick_out = 0
    ya.minor_tick_in = 0
    ya.minor_tick_out = 0
    ya.axis_line_color = "#404040"
    ya.axis_line_width = 2
    ya.major_label_text_font = SERIF
    ya.major_label_text_font_style = "bold"
    ya.major_label_text_font_size = "36px"
    ya.major_label_text_color = "black"
    ya.major_label_standoff = 27
    ya.axis_label = "Pullout resistance (kN)"
    ya.axis_label_text_font = SERIF
    ya.axis_label_text_font_style = "bold"
    ya.axis_label_text_font_size = "37px"
    ya.axis_label_text_color = "black"
    ya.axis_label_standoff = 5

    # grid
    p.xgrid.visible = False
    p.ygrid.ticker = FixedTicker(ticks=[0.1, 0.2])
    p.ygrid.grid_line_color = "#a6a6a6"
    p.ygrid.grid_line_dash = "4 3"
    p.ygrid.grid_line_width = 1.5

    cap = Title(text=caption, align="left", offset=cap_offset,
                text_font="Noto Sans CJK KR", text_font_size="35px",
                text_font_style="normal", text_color="black", standoff=12)
    p.add_layout(cap, "below")
    return p


pa = make_panel(*PANELS[0], border_right=78, cap_offset=175)
pb = make_panel(*PANELS[1], border_right=40, cap_offset=175)
pc = make_panel(*PANELS[2], border_right=81, cap_offset=167)
pd = make_panel(*PANELS[3], border_right=40, cap_offset=166)
pe = make_panel(*PANELS[4], border_right=40, cap_offset=166)

layout = column(
    row(Spacer(width=191), pa, pb),
    row(Spacer(width=189), pc, pd),
    Spacer(height=34),
    row(Spacer(width=696), pe),
)

open("out.html", "w").write(file_html(layout, INLINE, title="Pullout resistance"))
